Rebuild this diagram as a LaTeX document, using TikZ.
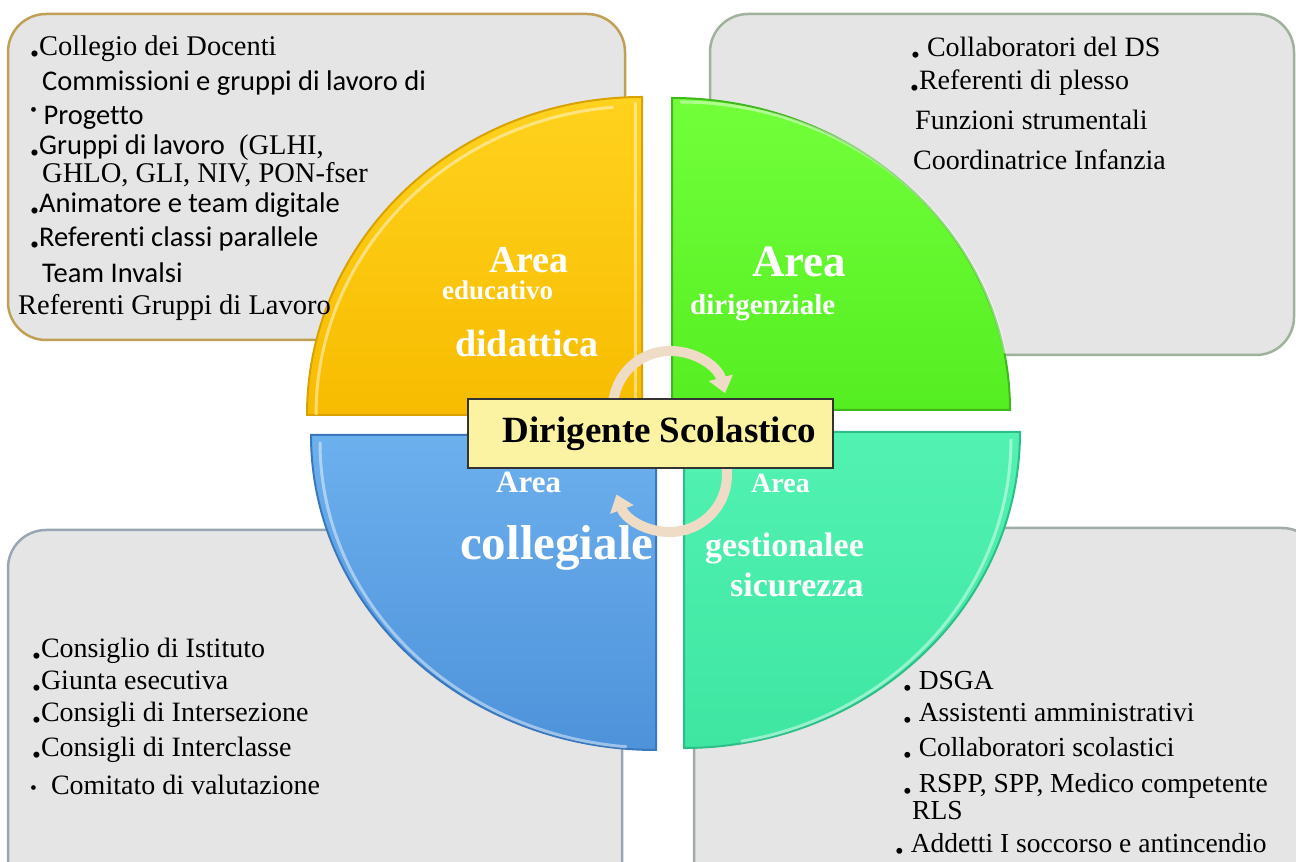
\documentclass[tikz,border=0pt]{standalone}
\usepackage{fontspec}
\setmainfont{Liberation Serif}
\newfontfamily\calib[Ligatures=NoCommon]{Carlito}
\usetikzlibrary{arrows.meta}

\definecolor{panelgray}{HTML}{E5E5E5}
\definecolor{tlborder}{HTML}{C0A055}
\definecolor{trborder}{HTML}{9FB29B}
\definecolor{blborder}{HTML}{98A6B4}
\definecolor{brborder}{HTML}{A0ACA4}
\definecolor{yellowtop}{HTML}{FFD21E}
\definecolor{yellowbot}{HTML}{F7BC00}
\definecolor{yellowedge}{HTML}{D9A200}
\definecolor{greentop}{HTML}{72FF3A}
\definecolor{greenbot}{HTML}{55EE22}
\definecolor{greenedge}{HTML}{3FB81C}
\definecolor{bluetop}{HTML}{6DB0EE}
\definecolor{bluebot}{HTML}{4E92DA}
\definecolor{blueedge}{HTML}{3A78BE}
\definecolor{tealtop}{HTML}{52F2B2}
\definecolor{tealbot}{HTML}{3EE6A2}
\definecolor{tealedge}{HTML}{2EBE88}
\definecolor{arrowtan}{HTML}{EEDCC6}
\definecolor{dsyellow}{HTML}{FBF3A2}

\newcommand{\bul}{\raisebox{-0.22em}{\scalebox{0.9}{\textbullet}}}
\newcommand{\upbul}{\raisebox{0.3em}{\scalebox{0.7}{\textbullet}}}
\newcommand{\fs}[1]{\fontsize{#1}{#1}\selectfont}

\begin{document}
\begin{tikzpicture}[x=1pt, y=1pt,
    panel/.style={fill=panelgray, line width=2.5pt, rounded corners=38pt},
    quad/.style={line width=2pt},
    shine/.style={draw=white, opacity=0.45, line width=3pt},
    itm/.style={anchor=base west, inner sep=0pt, font=\fs{28}},
    lbl/.style={anchor=base west, inner sep=0pt, text=white},
    turn/.style={line width=10pt, draw=arrowtan, -{Triangle[width=24pt,length=16pt]}}]

\clip (0,0) rectangle (1296,862);
\fill[white] (0,0) rectangle (1296,862);

% panels behind the circle
\draw[panel, draw=tlborder] (8,522) rectangle (625,848);
\draw[panel, draw=trborder] (710,507) rectangle (1294,848);
\draw[panel, draw=blborder] (8,-40) rectangle (622,332);
\draw[panel, draw=brborder] (694,-40) rectangle (1320,334);

% the four areas
\draw[quad, draw=yellowedge, top color=yellowtop, bottom color=yellowbot]
    (642,447) -- (307,447) arc[start angle=180, end angle=90, x radius=335, y radius=318] -- cycle;
\draw[quad, draw=greenedge, top color=greentop, bottom color=greenbot]
    (672,452) -- (672,764) arc[start angle=90, end angle=0, x radius=338, y radius=312] -- cycle;
\draw[quad, draw=blueedge, top color=bluetop, bottom color=bluebot]
    (656,427) -- (311,427) arc[start angle=180, end angle=270, x radius=345, y radius=315] -- cycle;
\draw[quad, draw=tealedge, top color=tealtop, bottom color=tealbot]
    (684,430) -- (1020,430) arc[start angle=0, end angle=-90, x radius=336, y radius=316] -- cycle;
\draw[shine] (316,447) arc[start angle=180, end angle=95, x radius=326, y radius=309];
\draw[shine] (635,447) -- (635,760);
\draw[shine] (680,760) arc[start angle=90, end angle=10, x radius=330, y radius=304];
\draw[shine] (320,420) arc[start angle=180, end angle=265, x radius=336, y radius=306];
\draw[shine] (1011,423) arc[start angle=0, end angle=-80, x radius=327, y radius=307];

% circular arrows
\draw[turn] (670,454) ++(190:57) arc[start angle=190, end angle=15, radius=57];
\draw[turn] (670,387) ++(10:57) arc[start angle=10, end angle=-160, radius=57];

% centre
\node[draw=black!80, fill=dsyellow, line width=1.5pt, minimum width=365pt,
      minimum height=69pt, inner sep=0pt] (ds) at (650.5,428.5)
      {\hspace*{18pt}\fs{37}\bfseries Dirigente Scolastico};

% area labels
\node[lbl, font=\fs{38}\bfseries] (didA) at (489,589) {Area};
\node[lbl, font=\fs{27}\bfseries] (didB) at (442,562) {educativo};
\node[lbl, font=\fs{38}\bfseries] (didC) at (455,505) {didattica};
\node[lbl, font=\fs{45}\bfseries] (dirA) at (752,585) {Area};
\node[lbl, font=\fs{29}\bfseries] (dirB) at (690,547) {dirigenziale};
\node[lbl, font=\fs{31}\bfseries] (colA) at (496,369) {Area};
\node[lbl, font=\fs{49}\bfseries] (colB) at (460,302) {collegiale};
\node[lbl, font=\fs{28}\bfseries] (gesA) at (751,369) {Area};
\node[lbl, font=\fs{34}\bfseries] (gesB) at (705,305) {gestionalee};
\node[lbl, font=\fs{34}\bfseries] (gesC) at (730,265) {sicurezza};

% top left panel
\node[itm, font=\fs{28.5}] (tl1) at (30,806) {\bul Collegio dei Docenti};
\node[itm, font=\fs{28.5}] (tl2) at (42,771) {\calib Commissioni e gruppi di lavoro di};
\node[itm, font=\fs{28.5}] (tl3) at (30,737) {\upbul\calib\ Progetto};
\node[itm, font=\fs{28.5}] (tl4) at (30,707) {\bul{\calib Gruppi di lavoro}\ \ (GLHI,};
\node[itm, font=\fs{28.5}] (tl5) at (42,679) {GHLO, GLI, NIV, PON-fser};
\node[itm, font=\fs{28.5}] (tl6) at (30,649) {\bul\calib Animatore e team digitale};
\node[itm, font=\fs{28.5}] (tl7) at (30,615) {\bul\calib Referenti classi parallele};
\node[itm, font=\fs{28.5}] (tl8) at (42,579) {\calib Team Invalsi};
\node[itm, font=\fs{28.5}] (tl9) at (18,547) {Referenti Gruppi di Lavoro};

% top right panel
\node[itm] (tr1) at (911,805) {\bul\ Collaboratori del DS};
\node[itm] (tr2) at (910,772) {\bul Referenti di plesso};
\node[itm] (tr3) at (915,732) {Funzioni strumentali};
\node[itm] (tr4) at (913,692) {Coordinatrice Infanzia};

% bottom left panel
\node[itm] (bl1) at (32,204) {\bul Consiglio di Istituto};
\node[itm] (bl2) at (32,172) {\bul Giunta esecutiva};
\node[itm] (bl3) at (32,140) {\bul Consigli di Intersezione};
\node[itm] (bl4) at (32,105) {\bul Consigli di Interclasse};
\node[itm] (bl5) at (30,67) {\scalebox{0.7}{\textbullet}\ \ Comitato di valutazione};

% bottom right panel
\node[itm, font=\fs{27.5}] (br1) at (903,172) {\bul\ DSGA};
\node[itm, font=\fs{27.5}] (br2) at (903,140) {\bul\ Assistenti amministrativi};
\node[itm, font=\fs{27.5}] (br3) at (903,105) {\bul\ Collaboratori scolastici};
\node[itm, font=\fs{27.5}] (br4) at (903,69) {\bul\ RSPP, SPP, Medico competente};
\node[itm, font=\fs{27.5}] (br5) at (912,42) {RLS};
\node[itm, font=\fs{27.5}] (br6) at (895,9) {\bul\ Addetti I soccorso e antincendio};
\end{tikzpicture}
\end{document}
